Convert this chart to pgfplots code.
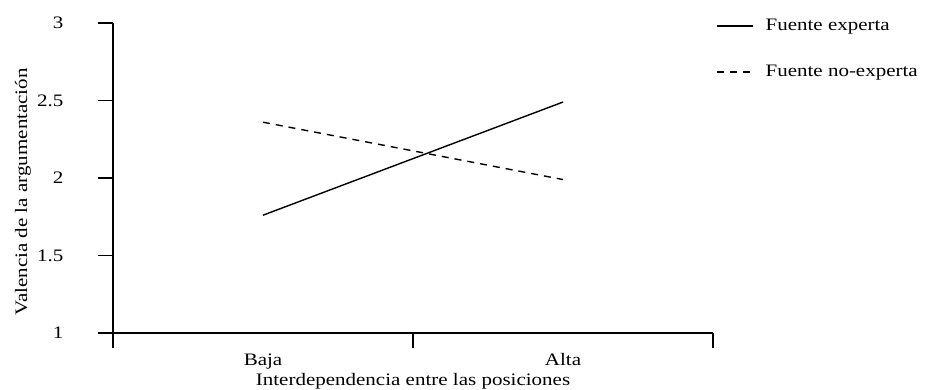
\documentclass[border=0pt]{standalone}
\usepackage{fontspec}
\setmainfont{Liberation Serif}[FakeStretch=1.2]
\usepackage{pgfplots}
\pgfplotsset{compat=1.18}
\newcommand{\chartfont}{\fontsize{17.5bp}{19bp}\selectfont}
\begin{document}
\begin{tikzpicture}
\path[use as bounding box] (0,0) rectangle (930bp,390bp);
\begin{axis}[
  at={(113bp,57bp)}, anchor=south west,
  scale only axis, width=600bp, height=310bp,
  xmin=0, xmax=2, ymin=1, ymax=3,
  axis x line*=bottom, axis y line*=left,
  axis line style={line width=1.3bp, -},
  xtick={0,1,2}, xticklabels={},
  ytick={1,1.5,2,2.5,3}, yticklabels={1,1.5,2,2.5,3},
  tick align=outside, major tick length=15bp,
  tick style={line width=1.3bp, black},
  /pgf/number format/assume math mode=true,
  every tick label/.append style={font=\chartfont},
  yticklabel style={anchor=east, xshift=-31bp},
  extra x ticks={0.5,1.5}, extra x tick labels={Baja,Alta},
  extra x tick style={major tick length=0pt, xticklabel style={anchor=base, yshift=-32bp}},
  xlabel={Interdependencia entre las posiciones},
  ylabel={Valencia de la argumentación},
  every axis x label/.style={at={(axis description cs:0.5,-0.155)}, anchor=center, font=\chartfont},
  every axis y label/.style={at={(axis description cs:-0.15,0.455)}, rotate=90, anchor=center, font=\chartfont},
  legend style={draw=none, fill=none, at={(axis description cs:1.0,1.025)}, anchor=north west,
    font=\chartfont, row sep=29bp,
    /tikz/every odd column/.append style={column sep=10bp}},
  legend cell align=left,
  legend image code/.code={\draw[#1] (0bp,0bp) -- (36bp,0bp);},
]
\addplot[black, line width=1.4bp] coordinates {(0.5,1.76) (1.5,2.49)};
\addlegendentry{Fuente experta}
\addplot[black, line width=1.4bp, dash pattern=on 7bp off 6bp] coordinates {(0.5,2.36) (1.5,1.99)};
\addlegendentry{Fuente no-experta}
\end{axis}
\end{tikzpicture}
\end{document}
